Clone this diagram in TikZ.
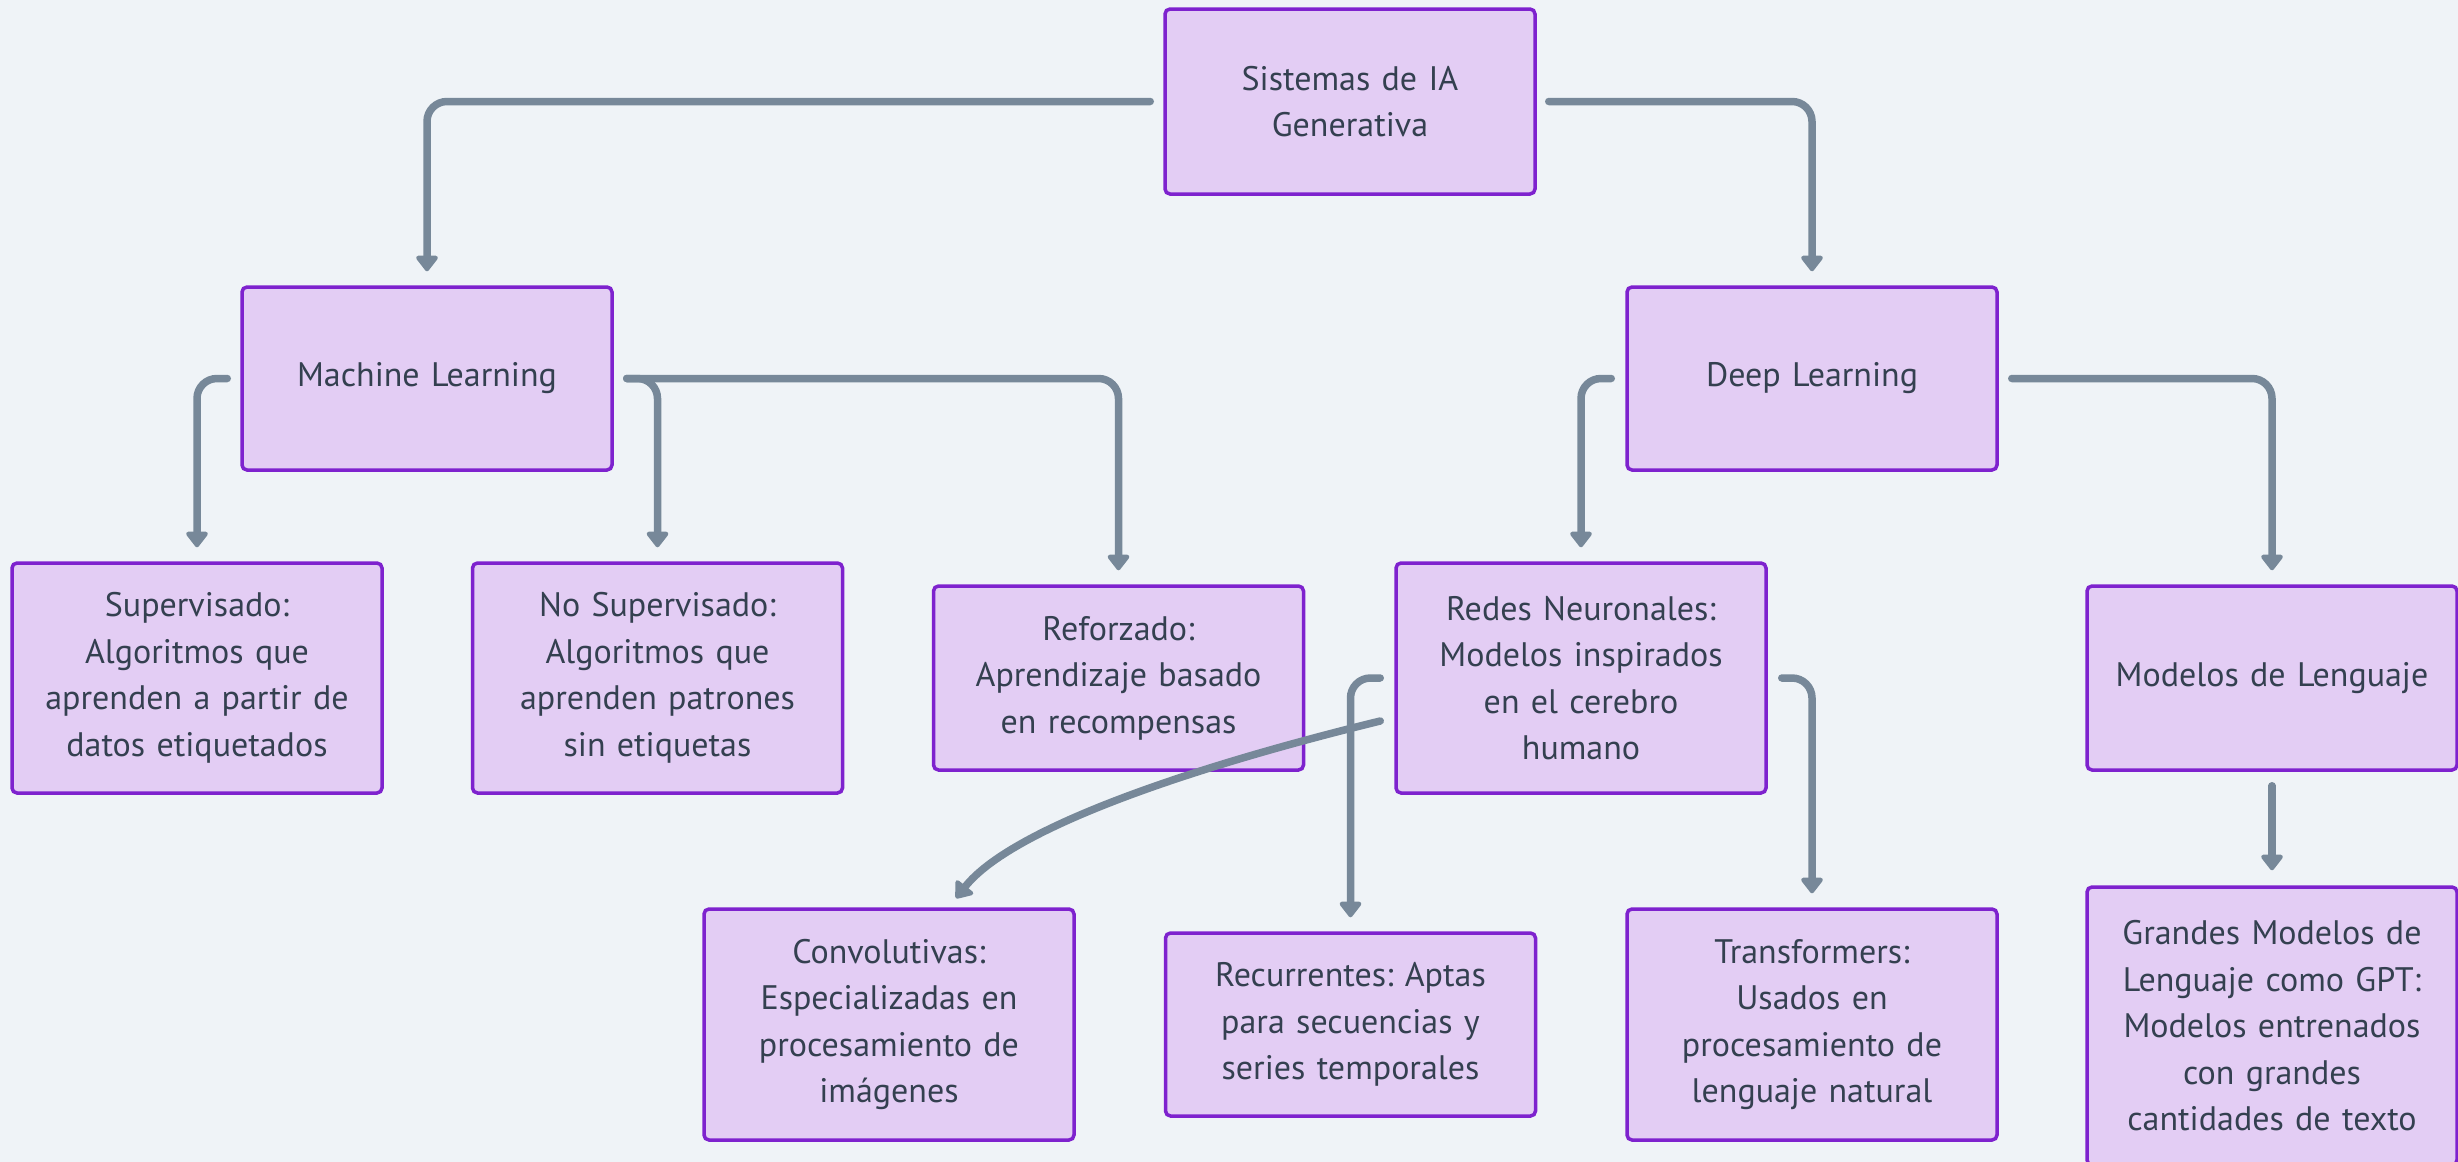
\documentclass[tikz,border=0pt]{standalone}
\usepackage{fontspec}
\setmainfont{PT Sans}
\usetikzlibrary{arrows.meta}
\definecolor{bg}{HTML}{EFF3F7}
\definecolor{boxfill}{HTML}{E3CDF4}
\definecolor{boxline}{HTML}{7E22CE}
\definecolor{txt}{HTML}{344050}
\definecolor{connc}{HTML}{778899}
\frenchspacing
\begin{document}
\begin{tikzpicture}[x=1pt,y=-1pt,
  box/.style={draw=boxline, fill=boxfill, line width=3.5pt, rounded corners=5pt,
    minimum width=370pt, text width=355pt, align=center, inner sep=0pt,
    font=\fontsize{34}{46.5}\selectfont, text=txt},
  conn/.style={draw=connc, line width=7.5pt, rounded corners=20pt, line cap=round,
    -{Triangle[width=25pt,length=17pt,round]}, shorten >=14pt}]
\fill[bg] (0,0) rectangle (2458,1162);
\useasboundingbox (0,0) rectangle (2458,1162);

\node[box, minimum height=185pt] (S) at (1350,101.5) {Sistemas de IA\\Generativa};
\node[box, minimum height=183pt] (ML) at (427,378.5) {Machine Learning};
\node[box, minimum height=183pt] (DL) at (1812,378.5) {Deep Learning};
\node[box, minimum height=230pt] (SU) at (197,678) {Supervisado:\\Algoritmos que\\aprenden a partir de\\datos etiquetados};
\node[box, minimum height=230pt] (NS) at (657.5,678) {No Supervisado:\\Algoritmos que\\aprenden patrones\\sin etiquetas};
\node[box, minimum height=184pt] (RF) at (1118.5,678) {Reforzado:\\Aprendizaje basado\\en recompensas};
\node[box, minimum height=230pt] (RN) at (1581,678) {Redes Neuronales:\\Modelos inspirados\\en el cerebro\\humano};
\node[box, minimum height=184pt] (LM) at (2272,678) {Modelos de Lenguaje};
\node[box, minimum height=231pt] (CV) at (889,1024.5) {Convolutivas:\\Especializadas en\\procesamiento de\\imágenes};
\node[box, minimum height=183pt] (RC) at (1350.5,1024.5) {Recurrentes: Aptas\\para secuencias y\\series temporales};
\node[box, minimum height=231pt] (TR) at (1812,1024.5) {Transformers:\\Usados en\\procesamiento de\\lenguaje natural};
\node[box, minimum height=278pt] (GM) at (2272,1026) {Grandes Modelos de\\Lenguaje como GPT:\\Modelos entrenados\\con grandes\\cantidades de texto};

\draw[conn] ([xshift=-13pt]S.west) -| (ML.north);
\draw[conn] ([xshift=12pt]S.east) -| (DL.north);
\draw[conn] ([xshift=-13pt]ML.west) -| (SU.north);
\draw[conn] ([xshift=13pt]ML.east) -| (NS.north);
\draw[conn] ([xshift=13pt]ML.east) -| (RF.north);
\draw[conn] ([xshift=-14pt]DL.west) -| (RN.north);
\draw[conn] ([xshift=13pt]DL.east) -| (LM.north);
\draw[conn] ([xshift=-14pt]RN.west) -| (RC.north);
\draw[conn] ([xshift=14pt]RN.east) -| (TR.north);
\draw[conn, shorten >=0pt] ([xshift=-14pt,yshift=-43pt]RN.west) .. controls (1180,770) and (1010,830) .. ([xshift=67pt,yshift=9pt]CV.north);
\draw[conn, shorten >=15pt] ([yshift=-14pt]LM.south) -- (GM.north);
\end{tikzpicture}
\end{document}
